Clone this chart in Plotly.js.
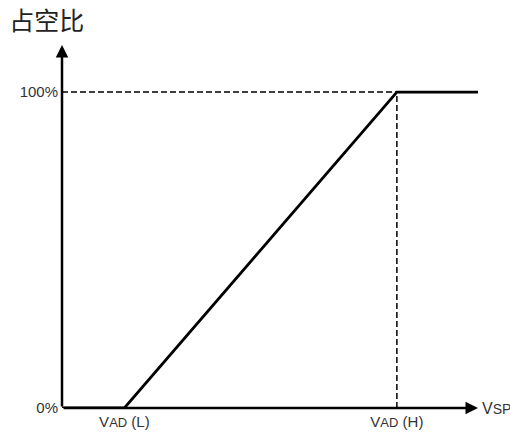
<!DOCTYPE html>
<html>
<head>
<meta charset="utf-8">
<script src="https://cdn.plot.ly/plotly-3.0.1.min.js"></script>
<style>html,body{margin:0;padding:0;background:#fff;}#chart{width:510px;height:434px;}</style>
</head>
<body>
<div id="chart"></div>
<script>
// Data
const xTickVals = [1.5, 8.05];
const xTickLabels = ['V<span style="font-size:13px">AD</span> (L)', 'V<span style="font-size:13px">AD</span> (H)'];
const yTickVals = [0, 100];
const yTickLabels = ['0%', '100%'];
const dutyX = [0, 1.5, 8.05, 10];
const dutyY = [0, 0, 100, 100];
const refHX = [0, 8.05];
const refHY = [100, 100];
const refVX = [8.05, 8.05];
const refVY = [0, 100];
const xMax = 10;
const yMax = 114.9;
const titleText = '占空比';
const xAxisName = 'V<span style="font-size:14px">SP</span>';

const traces = [
  {x: refHX, y: refHY, mode: 'lines', line: {color: '#000', width: 1.5, dash: '6px,3px'}, cliponaxis: false, hoverinfo: 'skip'},
  {x: refVX, y: refVY, mode: 'lines', line: {color: '#000', width: 1.5, dash: '6px,3px'}, cliponaxis: false, hoverinfo: 'skip'},
  {x: dutyX, y: dutyY, mode: 'lines', line: {color: '#000', width: 2.8}, cliponaxis: false, hoverinfo: 'skip'}
];

const layout = {
  width: 510, height: 434,
  margin: {l: 62, r: 32, t: 45, b: 26, pad: 0},
  paper_bgcolor: '#fff', plot_bgcolor: '#fff',
  showlegend: false,
  title: {text: titleText, xref: 'container', yref: 'container', x: 0.018, xanchor: 'left', y: 0.951, yanchor: 'middle',
          font: {family: 'Noto Sans CJK SC', size: 25, color: '#222'}},
  xaxis: {range: [0, xMax], showgrid: false, zeroline: false, showline: false,
          tickmode: 'array', tickvals: xTickVals, ticktext: xTickLabels, ticks: '', ticklabelstandoff: 3,
          tickfont: {family: 'Liberation Sans, Arial', size: 15, color: '#333'}, fixedrange: true},
  yaxis: {range: [0, yMax], showgrid: false, zeroline: false, showline: false,
          tickmode: 'array', tickvals: yTickVals, ticktext: yTickLabels, ticks: '', ticklabelstandoff: 3,
          tickfont: {family: 'Liberation Sans, Arial', size: 15, color: '#333'}, fixedrange: true},
  annotations: [
    {x: xMax, y: 0, ax: 0, ay: 0, xref: 'x', yref: 'y', axref: 'x', ayref: 'y', text: '', showarrow: true,
     arrowhead: 2, arrowsize: 1, arrowwidth: 2.5, arrowcolor: '#000', standoff: 0},
    {x: 0, y: yMax, ax: 0, ay: 0, xref: 'x', yref: 'y', axref: 'x', ayref: 'y', text: '', showarrow: true,
     arrowhead: 2, arrowsize: 1, arrowwidth: 2.5, arrowcolor: '#000', standoff: 0},
    {x: xMax, y: 0, xref: 'x', yref: 'y', text: xAxisName, showarrow: false, xanchor: 'left', yanchor: 'middle', xshift: 2,
     font: {family: 'Liberation Sans, Arial', size: 16, color: '#333'}}
  ]
};

Plotly.newPlot('chart', traces, layout, {staticPlot: true, displayModeBar: false});
</script>
</body>
</html>
